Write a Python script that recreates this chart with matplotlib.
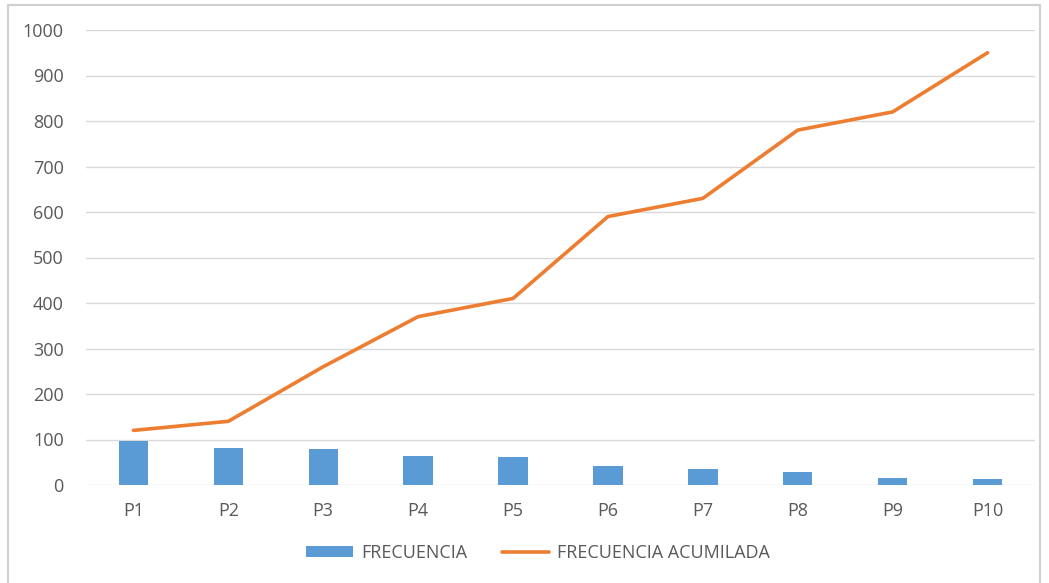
#!/usr/bin/env python3
"""Bar + line chart: frecuencia y frecuencia acumulada por periodo."""

import matplotlib
matplotlib.use("Agg")
import matplotlib.pyplot as plt
from matplotlib.patches import Rectangle

CATEGORIES = ["P1", "P2", "P3", "P4", "P5", "P6", "P7", "P8", "P9", "P10"]
FRECUENCIA = [96, 82, 79, 63, 61, 41, 36, 28, 15, 13]
ACUMULADA = [120, 140, 260, 370, 410, 590, 630, 780, 820, 950]
Y_TICKS = [0, 100, 200, 300, 400, 500, 600, 700, 800, 900, 1000]

BAR_COLOR = "#5B9BD5"
LINE_COLOR = "#ED7D31"
TEXT_COLOR = "#595959"
GRID_COLOR = "#D9D9D9"

plt.rcParams["font.family"] = ["Open Sans", "DejaVu Sans"]

W, H = 1049, 583
fig = plt.figure(figsize=(W / 100, H / 100), dpi=100)

# outer chart frame
fig.patches.append(Rectangle((8 / W, -0.05), (1040 - 8) / W, 1.05 - 5 / H,
                             transform=fig.transFigure, fill=False,
                             edgecolor="#D0D0D0", linewidth=1.5))

ax = fig.add_axes([86 / W, 1 - 485 / H, (1035 - 86) / W, (485 - 30) / H])
x = list(range(len(CATEGORIES)))

bars = ax.bar(x, FRECUENCIA, width=0.31, color=BAR_COLOR, label="FRECUENCIA", zorder=2)
line, = ax.plot(x, ACUMULADA, color=LINE_COLOR, linewidth=2.6, solid_capstyle="round",
                label="FRECUENCIA ACUMILADA", zorder=3)

ax.set_xlim(-0.5, len(CATEGORIES) - 0.5)
ax.set_ylim(0, 1000)
ax.set_yticks(Y_TICKS)
ax.set_xticks(x)
ax.set_xticklabels(CATEGORIES)
ax.tick_params(length=0, colors=TEXT_COLOR, labelsize=13)
ax.tick_params(axis="y", pad=16)
ax.tick_params(axis="x", pad=12)
for s in ax.spines.values():
    s.set_visible(False)
ax.grid(axis="y", color=GRID_COLOR, linewidth=1, zorder=0)
ax.set_axisbelow(True)

leg = fig.legend(handles=[bars, line], loc="center",
                 bbox_to_anchor=(538 / W, 1 - 553 / H), ncol=2,
                 frameon=False, fontsize=13, handlelength=2.6, handleheight=0.55,
                 columnspacing=1.9, handletextpad=0.45)
for t in leg.get_texts():
    t.set_color(TEXT_COLOR)

fig.savefig("out.png", dpi=100)
